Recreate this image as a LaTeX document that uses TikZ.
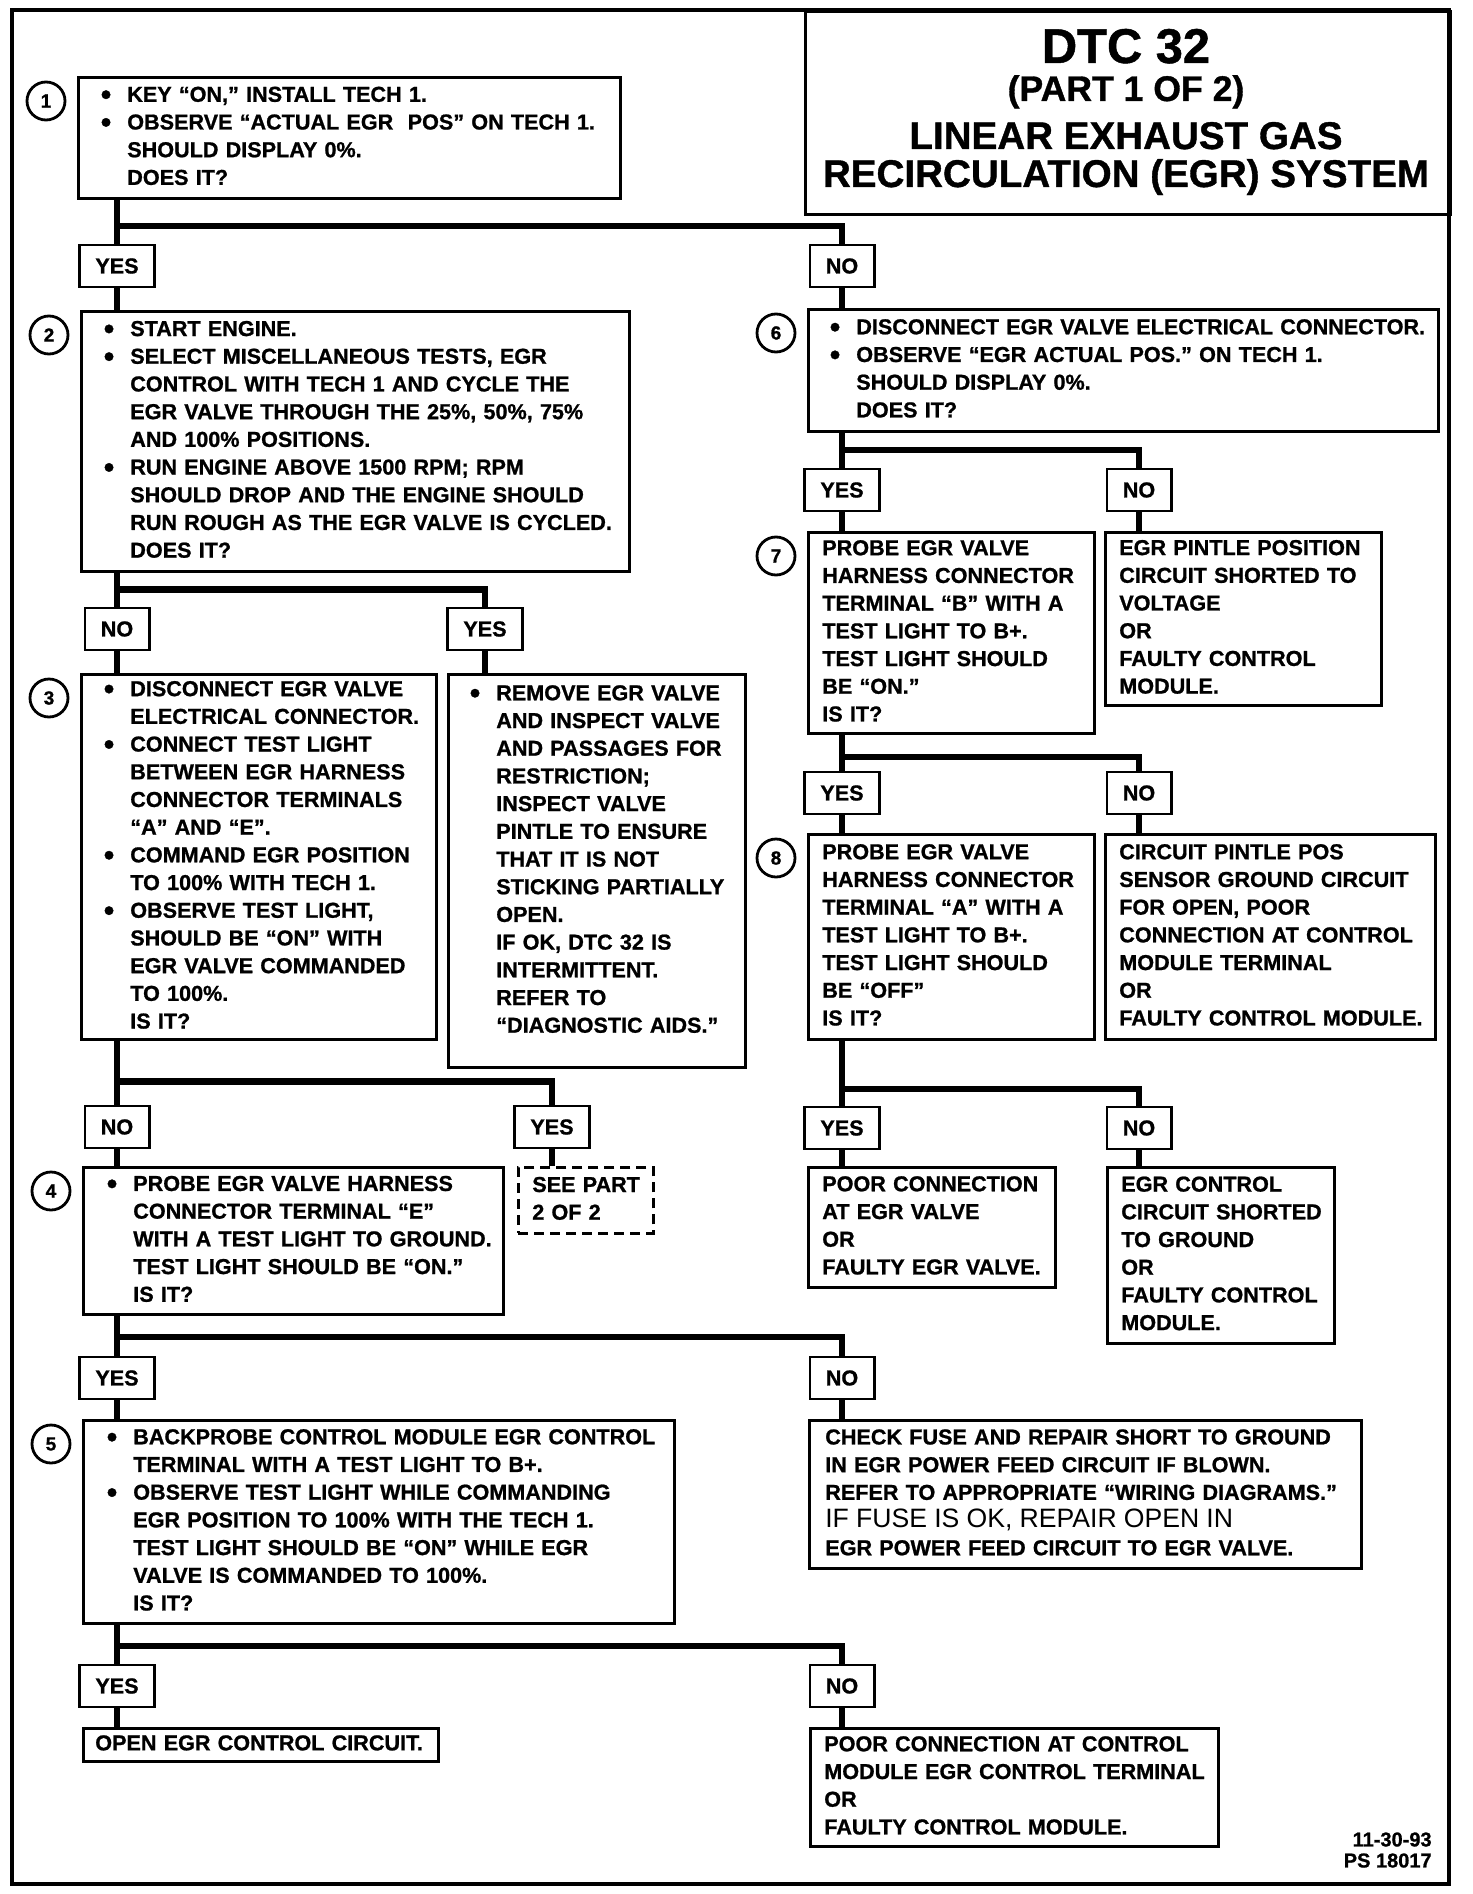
\documentclass[tikz,border=0pt]{standalone}
\usepackage{fontspec}
\setmainfont{Liberation Sans}[BoldFeatures={FakeBold=1}]
\usetikzlibrary{calc}

\newcommand{\bodyfont}{\fontsize{10.8}{13.85}\selectfont\bfseries}
\newcommand{\steplines}[2]{\begin{tabular}{@{\hspace{#1}}l@{}}#2\end{tabular}}
\newcommand{\bul}{\llap{\raisebox{-1.4pt}{\fontsize{15}{15}\selectfont\textbullet}\hspace{8pt}}}

\begin{document}
\begin{tikzpicture}[
  x=0.5pt, y=-0.5pt,
  box/.style={draw,line width=1.3pt,anchor=north west,inner sep=0pt,align=left,font=\bodyfont},
  seebox/.style={box,dash pattern=on 5pt off 3pt},
  lab/.style={draw,line width=1.3pt,fill=white,inner xsep=8pt,inner ysep=0pt,minimum height=21pt,font=\bodyfont},
  num/.style={circle,draw,line width=1.4pt,minimum size=19pt,inner sep=0pt,font=\bfseries\fontsize{9.5}{9.5}\selectfont},
  wire/.style={line width=3.2pt},
  pageframe/.style={line width=1.6pt}
]
\useasboundingbox (0,0) rectangle (1472,1894);
\draw[pageframe] (12,10) rectangle (1449,1884);

% title block
\node[box,minimum width=322.5pt,minimum height=101.5pt] (title) at (804,10) {};
\node[anchor=base,font=\bfseries\fontsize{24.4}{24}\selectfont] (dtc) at (1126,63) {DTC 32};
\node[anchor=base,font=\bfseries\fontsize{17.8}{18}\selectfont] (part) at (1126,101) {(PART 1 OF 2)};
\node[anchor=base,font=\bfseries\fontsize{19.3}{19}\selectfont] (name1) at (1126,149) {LINEAR EXHAUST GAS};
\node[anchor=base,font=\bfseries\fontsize{19.3}{19}\selectfont] (name2) at (1126,187) {RECIRCULATION (EGR) SYSTEM};

% left column
\node[box,text width=271pt,minimum height=60.5pt] (s1) at (77,76) {\steplines{24.5pt}{\bul KEY “ON,” INSTALL TECH 1.\\
  \bul OBSERVE “ACTUAL EGR \ POS” ON TECH 1.\\
  SHOULD DISPLAY 0\%.\\
  DOES IT?}};
\node[lab] (y1) at (117,266) {YES};
\node[lab] (n1) at (842,266) {NO};
\node[box,text width=274pt,minimum height=130pt] (s2) at (80,310) {\steplines{24.5pt}{\bul START ENGINE.\\
  \bul SELECT MISCELLANEOUS TESTS, EGR\\
  CONTROL WITH TECH 1 AND CYCLE THE\\
  EGR VALVE THROUGH THE 25\%, 50\%, 75\%\\
  AND 100\% POSITIONS.\\
  \bul RUN ENGINE ABOVE 1500 RPM; RPM\\
  SHOULD DROP AND THE ENGINE SHOULD\\
  RUN ROUGH AS THE EGR VALVE IS CYCLED.\\
  DOES IT?}};
\node[lab] (n2) at (117,629) {NO};
\node[lab] (y2) at (485,629) {YES};
\node[box,text width=177.5pt,minimum height=182.5pt] (s3) at (80,673) {\steplines{24.5pt}{\bul DISCONNECT EGR VALVE\\
  ELECTRICAL CONNECTOR.\\
  \bul CONNECT TEST LIGHT\\
  BETWEEN EGR HARNESS\\
  CONNECTOR TERMINALS\\
  “A” AND “E”.\\
  \bul COMMAND EGR POSITION\\
  TO 100\% WITH TECH 1.\\
  \bul OBSERVE TEST LIGHT,\\
  SHOULD BE “ON” WITH\\
  EGR VALVE COMMANDED\\
  TO 100\%.\\
  IS IT?}};
\node[box,text width=148.5pt,minimum height=196.5pt] (r2) at (447,673) {\steplines{24pt}{\bul REMOVE EGR VALVE\\
  AND INSPECT VALVE\\
  AND PASSAGES FOR\\
  RESTRICTION;\\
  INSPECT VALVE\\
  PINTLE TO ENSURE\\
  THAT IT IS NOT\\
  STICKING PARTIALLY\\
  OPEN.\\
  IF OK, DTC 32 IS\\
  INTERMITTENT.\\
  REFER TO\\
  “DIAGNOSTIC AIDS.”\rule[-14pt]{0pt}{0pt}}};
\node[lab] (n3) at (117,1127) {NO};
\node[lab] (y3) at (552,1127) {YES};
\node[box,text width=210pt,minimum height=73.5pt] (s4) at (82,1166) {\steplines{25pt}{\bul PROBE EGR VALVE HARNESS\\
  CONNECTOR TERMINAL “E”\\
  WITH A TEST LIGHT TO GROUND.\\
  TEST LIGHT SHOULD BE “ON.”\\
  IS IT?}};
\node[seebox,text width=67.5pt,minimum height=33pt] (see) at (517,1166) {\steplines{7pt}{SEE PART\\
  2 OF 2}};
\node[lab] (y4) at (117,1378) {YES};
\node[lab] (n4) at (842,1378) {NO};
\node[box,text width=295.5pt,minimum height=101.5pt] (s5) at (82,1419) {\steplines{25pt}{\bul BACKPROBE CONTROL MODULE EGR CONTROL\\
  TERMINAL WITH A TEST LIGHT TO B+.\\
  \bul OBSERVE TEST LIGHT WHILE COMMANDING\\
  EGR POSITION TO 100\% WITH THE TECH 1.\\
  TEST LIGHT SHOULD BE “ON” WHILE EGR\\
  VALVE IS COMMANDED TO 100\%.\\
  IS IT?}};
\node[box,text width=276pt,minimum height=74pt] (r4) at (808,1419) {\steplines{8pt}{CHECK FUSE AND REPAIR SHORT TO GROUND\\
  IN EGR POWER FEED CIRCUIT IF BLOWN.\\
  REFER TO APPROPRIATE “WIRING DIAGRAMS.”\\
  {\mdseries\fontsize{13.3}{13.85}\selectfont IF FUSE IS OK, REPAIR OPEN IN}\\
  EGR POWER FEED CIRCUIT TO EGR VALVE.}};
\node[lab] (y5) at (117,1686) {YES};
\node[lab] (n5) at (842,1686) {NO};
\node[box,text width=177.5pt,minimum height=16.5pt] (r5y) at (82,1727) {\steplines{6pt}{OPEN EGR CONTROL CIRCUIT.}};
\node[box,text width=204pt,minimum height=59pt] (r5n) at (809,1727) {\steplines{7pt}{POOR CONNECTION AT CONTROL\\
  MODULE EGR CONTROL TERMINAL\\
  OR\\
  FAULTY CONTROL MODULE.}};

% right column
\node[box,text width=315pt,minimum height=61pt] (s6) at (807,308) {\steplines{24pt}{\bul DISCONNECT EGR VALVE ELECTRICAL CONNECTOR.\\
  \bul OBSERVE “EGR ACTUAL POS.” ON TECH 1.\\
  SHOULD DISPLAY 0\%.\\
  DOES IT?}};
\node[lab] (y6) at (842,490) {YES};
\node[lab] (n6) at (1139,490) {NO};
\node[box,text width=143pt,minimum height=100.5pt] (s7) at (807,531) {\steplines{7pt}{PROBE EGR VALVE\\
  HARNESS CONNECTOR\\
  TERMINAL “B” WITH A\\
  TEST LIGHT TO B+.\\
  TEST LIGHT SHOULD\\
  BE “ON.”\\
  IS IT?}};
\node[box,text width=138pt,minimum height=86.5pt] (r6) at (1104,531) {\steplines{7pt}{EGR PINTLE POSITION\\
  CIRCUIT SHORTED TO\\
  VOLTAGE\\
  OR\\
  FAULTY CONTROL\\
  MODULE.}};
\node[lab] (y7) at (842,793) {YES};
\node[lab] (n7) at (1139,793) {NO};
\node[box,text width=143pt,minimum height=102.5pt] (s8) at (807,833) {\steplines{7pt}{PROBE EGR VALVE\\
  HARNESS CONNECTOR\\
  TERMINAL “A” WITH A\\
  TEST LIGHT TO B+.\\
  TEST LIGHT SHOULD\\
  BE “OFF”\\
  IS IT?}};
\node[box,text width=165pt,minimum height=102.5pt] (r7) at (1104,833) {\steplines{7pt}{CIRCUIT PINTLE POS\\
  SENSOR GROUND CIRCUIT\\
  FOR OPEN, POOR\\
  CONNECTION AT CONTROL\\
  MODULE TERMINAL\\
  OR\\
  FAULTY CONTROL MODULE.}};
\node[lab] (y8) at (842,1128) {YES};
\node[lab] (n8) at (1139,1128) {NO};
\node[box,text width=123.5pt,minimum height=60pt] (r8y) at (807,1166) {\steplines{7pt}{POOR CONNECTION\\
  AT EGR VALVE\\
  OR\\
  FAULTY EGR VALVE.}};
\node[box,text width=113.5pt,minimum height=88pt] (r8n) at (1106,1166) {\steplines{7pt}{EGR CONTROL\\
  CIRCUIT SHORTED\\
  TO GROUND\\
  OR\\
  FAULTY CONTROL\\
  MODULE.}};

% step numbers
\foreach \s/\k in {s1/1,s2/2,s3/3,s4/4,s5/5,s6/6,s7/7,s8/8}
  \node[num] (c\k) at ([xshift=-15.5pt,yshift=-12.5pt]\s.north west) {\k};

% connectors
\draw[wire] (s1.south -| y1) -- (y1) (y1) -- (y1 |- s2.north);
\draw[wire] ($(s1.south -| y1)!0.6!(y1.north)$) -| (n1);
\draw[wire] (n1) -- (n1 |- s6.north);

\draw[wire] (s2.south -| n2) -- (n2) (n2) -- (n2 |- s3.north);
\draw[wire] ($(s2.south -| n2)!0.5!(n2.north)$) -| (y2);
\draw[wire] (y2) -- (y2 |- r2.north);

\draw[wire] (s3.south -| n3) -- (n3) (n3) -- (n3 |- s4.north);
\draw[wire] ($(s3.south -| n3)!0.64!(n3.north)$) -| (y3);
\draw[wire] (y3) -- (y3 |- see.north);

\draw[wire] (s4.south -| y4) -- (y4) (y4) -- (y4 |- s5.north);
\draw[wire] ($(s4.south -| y4)!0.53!(y4.north)$) -| (n4);
\draw[wire] (n4) -- (n4 |- r4.north);

\draw[wire] (s5.south -| y5) -- (y5) (y5) -- (y5 |- r5y.north);
\draw[wire] ($(s5.south -| y5)!0.55!(y5.north)$) -| (n5);
\draw[wire] (n5) -- (n5 |- r5n.north);

\draw[wire] (s6.south -| y6) -- (y6) (y6) -- (y6 |- s7.north);
\draw[wire] ($(s6.south -| y6)!0.5!(y6.north)$) -| (n6);
\draw[wire] (n6) -- (n6 |- r6.north);

\draw[wire] (s7.south -| y7) -- (y7) (y7) -- (y7 |- s8.north);
\draw[wire] ($(s7.south -| y7)!0.62!(y7.north)$) -| (n7);
\draw[wire] (n7) -- (n7 |- r7.north);

\draw[wire] (s8.south -| y8) -- (y8) (y8) -- (y8 |- r8y.north);
\draw[wire] ($(s8.south -| y8)!0.74!(y8.north)$) -| (n8);
\draw[wire] (n8) -- (n8 |- r8n.north);

\node[anchor=south east,align=right,inner sep=0pt,font=\bfseries\fontsize{10}{10.5}\selectfont] (date) at (1432,1868) {11-30-93\\PS 18017};
\end{tikzpicture}
\end{document}
